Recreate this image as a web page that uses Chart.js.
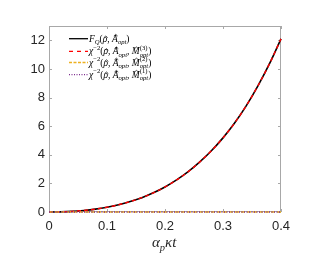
<!DOCTYPE html>
<html><head><meta charset="utf-8">
<script src="https://cdn.jsdelivr.net/npm/chart.js@4"></script>
<style>html,body{margin:0;padding:0;background:#fff;}#wrap{width:331px;height:265px;}</style>
</head><body><div id="wrap"><canvas id="c" width="331" height="265"></canvas></div>
<script>
const xValues = [0,0.02,0.04,0.06,0.08,0.10,0.12,0.14,0.16,0.18,0.20,0.22,0.24,0.26,0.28,0.30,0.32,0.34,0.36,0.38,0.40];
const fq      = [0,0.01,0.045,0.107,0.20,0.333,0.507,0.73,1.0,1.34,1.75,2.24,2.82,3.5,4.28,5.18,6.22,7.42,8.8,10.35,12.1];
const chi3    = [0,0.01,0.045,0.107,0.20,0.333,0.507,0.73,1.0,1.34,1.75,2.24,2.82,3.5,4.28,5.18,6.22,7.42,8.8,10.35,12.1];
const chi2    = [0,0,0,0,0,0,0,0,0,0,0,0,0,0,0,0,0,0,0,0,0];
const chi1    = [0,0,0,0,0,0,0,0,0,0,0,0,0,0,0,0,0,0,0,0,0];
const xTicks  = [0,0.1,0.2,0.3,0.4];
const yTicks  = [0,2,4,6,8,10,12];

const pts = arr => arr.map((v,i)=>({x:xValues[i], y:v}));
const BOX = '#a8a8a8';
const SERIF = '"Liberation Serif","DejaVu Serif",serif';

function rich(ctx, x, y, segs, size) {
  for (const s of segs) {
    const f = (it, sz) => (it ? 'italic ' : '') + sz + 'px ' + SERIF;
    if (s.t) {
      ctx.font = f(s.it, size);
      ctx.fillText(s.t, x, y);
      const tw = ctx.measureText(s.t).width;
      if (s.hat) {
        // small circumflex drawn above the glyph
        const cx = x + tw/2 + (s.it ? size*0.08 : 0);
        const top = y - (s.hatH || size*0.72);
        ctx.save();
        ctx.strokeStyle = ctx.fillStyle; ctx.lineWidth = 0.7;
        ctx.beginPath();
        ctx.moveTo(cx - size*0.2, top + size*0.12);
        ctx.lineTo(cx, top - size*0.05);
        ctx.lineTo(cx + size*0.2, top + size*0.12);
        ctx.stroke();
        ctx.restore();
      }
      x += tw;
    }
    let w = 0;
    if (s.sup) { ctx.font = f(s.supIt, size*0.7); ctx.fillText(s.sup, x, y - size*0.45); w = Math.max(w, ctx.measureText(s.sup).width); }
    if (s.sub) { ctx.font = f(s.subIt, size*0.7); ctx.fillText(s.sub, x, y + size*0.28); w = Math.max(w, ctx.measureText(s.sub).width); }
    x += w;
  }
  return x;
}

const deco = {
  id: 'deco',
  beforeDatasetsDraw(chart) {
    const {ctx, chartArea: a, scales} = chart;
    ctx.save();
    ctx.strokeStyle = BOX; ctx.lineWidth = 1;
    ctx.strokeRect(a.left + 0.5, a.top + 0.5, a.right - a.left - 1, a.bottom - a.top - 1);
    ctx.beginPath();
    for (const t of xTicks) {
      const px = Math.round(scales.x.getPixelForValue(t)) + 0.5;
      ctx.moveTo(px, a.bottom); ctx.lineTo(px, a.bottom - 3);
      ctx.moveTo(px, a.top); ctx.lineTo(px, a.top + 3);
    }
    for (const t of yTicks) {
      const py = Math.round(scales.y.getPixelForValue(t)) + 0.5;
      ctx.moveTo(a.left, py); ctx.lineTo(a.left + 3, py);
      ctx.moveTo(a.right, py); ctx.lineTo(a.right - 3, py);
    }
    ctx.stroke();
    ctx.restore();
  },
  afterDraw(chart) {
    const {ctx, chartArea: a} = chart;
    ctx.save();
    ctx.fillStyle = '#262626';
    ctx.textBaseline = 'alphabetic';
    const segsX = [{t:'α', it:true, sub:'p', subIt:true}, {t:'κt', it:true}];
    ctx.font = 'italic 15px ' + SERIF;
    const w = ctx.measureText('ακt').width + 7;
    rich(ctx, (a.left + a.right)/2 - w/2, 247, segsX, 15);

    const rho = {t:'(', }, 
          rhoHat = {t:'ρ', it:true, hat:true, hatH:5.2};
    const Aopt = {t:'A', it:true, hat:true, sub:'opt', subIt:true};
    const chiBase = [{t:'χ', it:true, sup:'−2'}, {t:'('}, rhoHat, {t:', '}, Aopt];
    const Mk = k => ({t:'M', it:true, hat:true, sup:'('+k+')', sub:'opt', subIt:true});
    const items = [
      {color:'#000000', dash:[], segs:[{t:'F', it:true, sub:'Q', subIt:true},{t:'('}, rhoHat, {t:', '}, Aopt, {t:')'}]},
      {color:'#ff0000', dash:[4,4], segs:[...chiBase, {t:', '}, Mk(3), {t:')'}]},
      {color:'#EDB120', dash:[3,1.5], segs:[...chiBase, {t:', '}, Mk(2), {t:')'}]},
      {color:'#7E2F8E', dash:[1,1.5], segs:[...chiBase, {t:', '}, Mk(1), {t:')'}]},
    ];
    const ys = [38.7, 51.3, 62.5, 74.7];
    items.forEach((it, i) => {
      const y = ys[i];
      ctx.strokeStyle = it.color; ctx.lineWidth = 1.3; ctx.setLineDash(it.dash);
      ctx.beginPath(); ctx.moveTo(69, y); ctx.lineTo(88, y); ctx.stroke();
      ctx.setLineDash([]);
      ctx.fillStyle = '#000';
      rich(ctx, 89, y + 3, it.segs, 9.5);
    });
    ctx.restore();
  }
};

new Chart(document.getElementById('c'), {
  type: 'line',
  data: {
    datasets: [
      {data: pts(fq), order: 4, borderColor:'#000000', borderWidth:1.6, pointRadius:0, cubicInterpolationMode:'monotone', clip: 4},
      {data: pts(chi3), order: 3, borderColor:'#ff0000', borderWidth:1.4, borderDash:[4,3], pointRadius:0, cubicInterpolationMode:'monotone', clip: 4},
      {data: pts(chi2), order: 2, borderColor:'#EDB120', borderWidth:1.4, borderDash:[4,2], pointRadius:0, clip: 4},
      {data: pts(chi1), order: 1, borderColor:'#7E2F8E', borderWidth:1.4, borderDash:[1,1.5], pointRadius:0, clip: 4},
    ]
  },
  options: {
    responsive: false, animation: false,
    layout: {padding: {left: 0, right: 50, top: 26, bottom: 0}},
    plugins: {legend: {display: false}, tooltip: {enabled: false}},
    scales: {
      x: {
        type: 'linear', min: 0, max: 0.4,
        grid: {display: false, drawTicks: false}, border: {display: false},
        afterBuildTicks: s => { s.ticks = xTicks.map(v => ({value: v})); },
        afterFit: s => { s.height = 53; },
        ticks: {padding: 7, color: '#262626', font: {family: '"Liberation Sans", Arial, sans-serif', size: 13},
                maxRotation: 0, callback: v => String(v)}
      },
      y: {
        min: 0, max: 13,
        grid: {display: false, drawTicks: false}, border: {display: false},
        afterBuildTicks: s => { s.ticks = yTicks.map(v => ({value: v})); },
        afterFit: s => { s.width = 49; },
        ticks: {padding: 4, color: '#262626', font: {family: '"Liberation Sans", Arial, sans-serif', size: 13},
                callback: v => String(v)}
      }
    }
  },
  plugins: [deco]
});
</script>
</body></html>
